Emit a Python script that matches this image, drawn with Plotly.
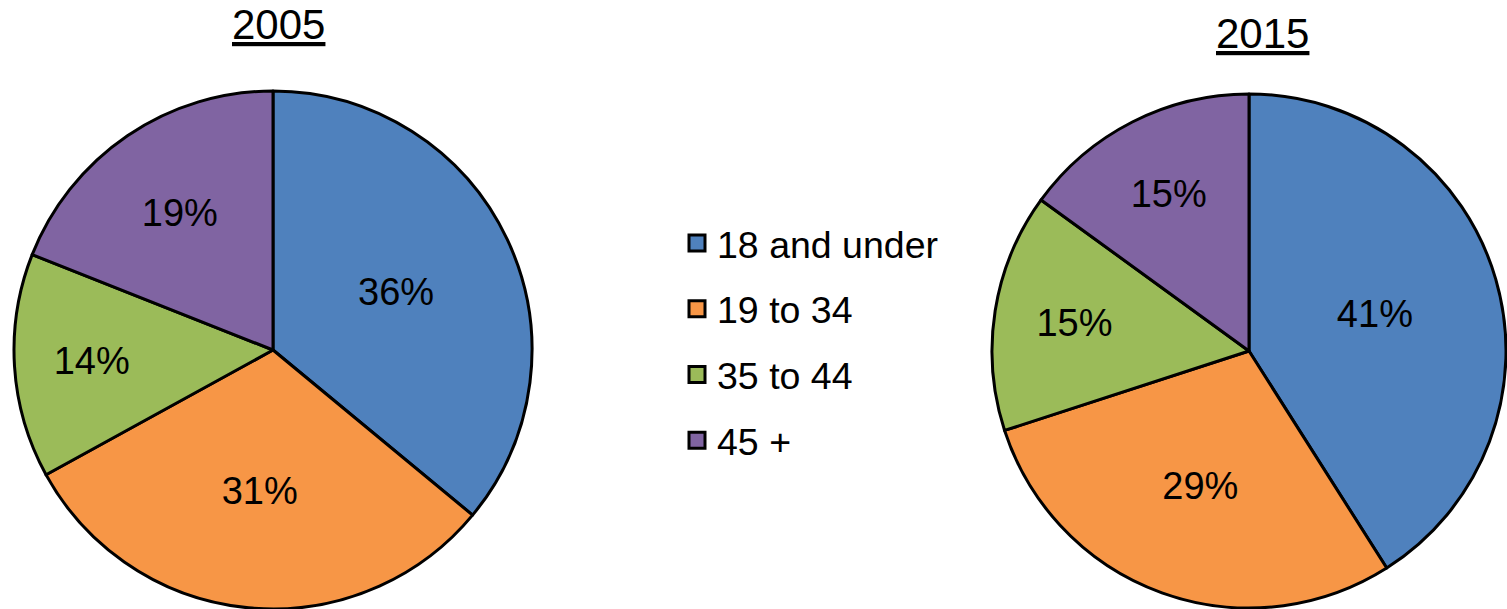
import plotly.graph_objects as go

categories = ["18 and under", "19 to 34", "35 to 44", "45 +"]
values_2005 = [36, 31, 14, 19]
values_2015 = [41, 29, 15, 15]
years = ["2005", "2015"]
colors = ["#4F81BD", "#F79646", "#9BBB59", "#8064A2"]

W, H = 1507, 609
FONT = "Liberation Sans, Arial, sans-serif"

def px_dom(cx, cy, r):
    return dict(x=[(cx - r) / W, (cx + r) / W],
                y=[1 - (cy + r) / H, 1 - (cy - r) / H])

fig = go.Figure()
for vals, dom in [(values_2005, px_dom(273, 350, 259)), (values_2015, px_dom(1249, 351, 257))]:
    fig.add_trace(go.Pie(
        labels=categories, values=vals, sort=False, direction="clockwise",
        rotation=0, domain=dom,
        marker=dict(colors=colors, line=dict(color="black", width=3)),
        textinfo="percent", texttemplate="%{percent:.0%}",
        textposition="inside", insidetextorientation="horizontal",
        textfont=dict(family=FONT, size=38, color="black"),
        showlegend=False, hoverinfo="label+percent",
    ))

for cat, col in zip(categories, colors):
    fig.add_trace(go.Scatter(
        x=[None], y=[None], mode="markers", name=cat, legendgroup=cat,
        marker=dict(symbol="square", size=16, color=col, line=dict(color="black", width=3)),
    ))

fig.add_annotation(text="<u>" + years[0] + "</u>", x=278 / W, y=1 - 25 / H, xref="paper", yref="paper",
                   xanchor="center", yanchor="middle",
                   showarrow=False, font=dict(family=FONT, size=42, color="black"))
fig.add_annotation(text="<u>" + years[1] + "</u>", x=1262 / W, y=1 - 33 / H, xref="paper", yref="paper",
                   xanchor="center", yanchor="middle",
                   showarrow=False, font=dict(family=FONT, size=42, color="black"))

fig.update_layout(
    width=W, height=H, margin=dict(l=0, r=0, t=0, b=0),
    paper_bgcolor="white", plot_bgcolor="white",
    xaxis=dict(visible=False), yaxis=dict(visible=False),
    legend=dict(x=677 / W, xanchor="left", y=1 - 212 / H, yanchor="top",
                font=dict(family=FONT, size=37.5, color="black"),
                tracegroupgap=14, bgcolor="rgba(0,0,0,0)", itemclick=False),
    showlegend=True,
)
fig.write_html("out.html", config={"displayModeBar": False},
               post_script="document.body.style.margin='0';")
